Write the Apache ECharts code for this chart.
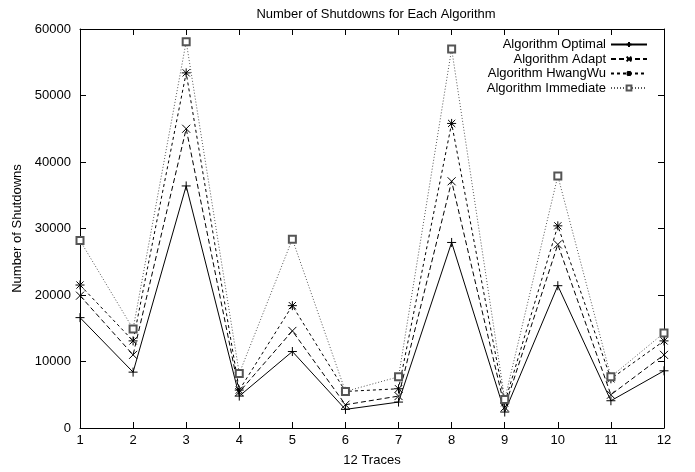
<!DOCTYPE html>
<html>
<head>
<meta charset="utf-8">
<script src="https://cdn.jsdelivr.net/npm/echarts@6/dist/echarts.min.js"></script>
<style>
html, body { margin: 0; padding: 0; background: #fff; }
#main { width: 695px; height: 472px; }
</style>
</head>
<body>
<div id="main"></div>
<script>
var traces = ['1', '2', '3', '4', '5', '6', '7', '8', '9', '10', '11', '12'];
var optimal   = [16600, 8400, 36400, 4800, 11500, 2800, 3900, 27900, 2400, 21400, 4100, 8600];
var adapt     = [19900, 11000, 45000, 5400, 14600, 3500, 4800, 37100, 3100, 27600, 5000, 11000];
var hwangWu   = [21500, 13100, 53400, 5700, 18400, 5500, 5900, 45800, 3800, 30400, 7400, 13100];
var immediate = [28200, 14900, 58100, 8200, 28400, 5500, 7700, 57000, 4300, 37900, 7700, 14300];
var yTicks = [0, 10000, 20000, 30000, 40000, 50000, 60000];

var font = 'Liberation Sans, Arial, sans-serif';
var chart = echarts.init(document.getElementById('main'), null, { renderer: 'canvas' });

function mkSeries(name, data, symbol, size, dash, color) {
    return {
        name: name,
        type: 'line',
        data: data,
        symbol: symbol,
        symbolSize: size,
        showAllSymbol: true,
        animation: false,
        lineStyle: { color: color, width: 1, type: dash },
        itemStyle: { color: color, borderColor: color, borderWidth: 1 },
        emphasis: { disabled: true }
    };
}

var series = [
    mkSeries('Algorithm Optimal', optimal, 'path://M5,0L5,10M0,5L10,5', 9, 'solid', '#000'),
    mkSeries('Algorithm Adapt', adapt, 'path://M0,0L10,10M10,0L0,10', 8, [5, 3], '#000'),
    mkSeries('Algorithm HwangWu', hwangWu, 'path://M5,0L5,10M0,5L10,5M1,1L9,9M9,1L1,9', 9, [3, 3], '#000'),
    mkSeries('Algorithm Immediate', immediate, 'emptyRect', 7, [1, 2], '#555')
];
// empty series so the mirrored top/right axes get drawn
series.push({ type: 'line', xAxisIndex: 1, yAxisIndex: 1, data: [], silent: true });

var tick = { show: true, inside: true, length: 6, lineStyle: { color: '#000', width: 1 } };

var option = {
    backgroundColor: '#fff',
    animation: false,
    title: {
        text: 'Number of Shutdowns for Each Algorithm',
        left: 371, top: 3, textAlign: 'center',
        textStyle: { fontFamily: font, fontSize: 13, fontWeight: 'normal', color: '#000' }
    },
    legend: {
        orient: 'vertical',
        right: 42, top: 33,
        align: 'right',
        itemWidth: 36, itemHeight: 6, itemGap: 1.5,
        textStyle: { fontFamily: font, fontSize: 13, color: '#000', lineHeight: 11 },
        data: ['Algorithm Optimal', 'Algorithm Adapt', 'Algorithm HwangWu', 'Algorithm Immediate']
    },
    grid: { left: 80, right: 31, top: 29, bottom: 43 },
    xAxis: [{
        type: 'category', data: traces, boundaryGap: false,
        name: '12 Traces', nameLocation: 'middle', nameGap: 26,
        nameTextStyle: { fontFamily: font, fontSize: 13, color: '#000' },
        axisLine: { onZero: false, lineStyle: { color: '#000', width: 1 } },
        axisTick: tick,
        axisLabel: { fontFamily: font, fontSize: 13, color: '#000', margin: 6 },
        splitLine: { show: false }
    }, {
        type: 'value', min: 0, max: traces.length - 1, interval: 1, position: 'top',
        axisLine: { show: true, onZero: false, lineStyle: { color: '#000', width: 1 } },
        axisTick: tick,
        axisLabel: { show: false }, splitLine: { show: false }
    }],
    yAxis: [{
        type: 'value', min: 0, max: 60000, interval: 10000,
        name: 'Number of Shutdowns', nameLocation: 'middle', nameGap: 56, nameRotate: 90,
        nameTextStyle: { fontFamily: font, fontSize: 13, color: '#000' },
        axisLine: { show: true, onZero: false, lineStyle: { color: '#000', width: 1 } },
        axisTick: tick,
        axisLabel: { fontFamily: font, fontSize: 13, color: '#000', margin: 9,
            formatter: function (v) { return yTicks.indexOf(v) >= 0 ? String(v) : ''; } },
        splitLine: { show: false }
    }, {
        type: 'value', min: 0, max: 60000, interval: 10000, position: 'right',
        axisLine: { show: true, onZero: false, lineStyle: { color: '#000', width: 1 } },
        axisTick: tick,
        axisLabel: { show: false }, splitLine: { show: false }
    }],
    series: series
};
chart.setOption(option);
</script>
</body>
</html>
